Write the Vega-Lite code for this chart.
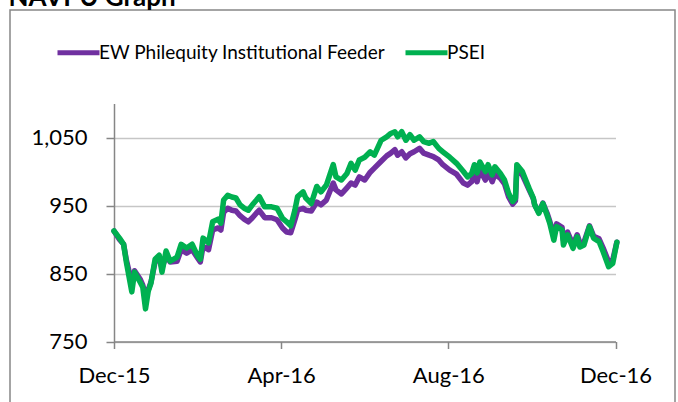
{
  "$schema": "https://vega.github.io/schema/vega-lite/v6.json",
  "autosize": {"type": "none"},
  "padding": {"left": 10, "top": 10, "right": 3, "bottom": 0},
  "width": 665,
  "height": 400,
  "background": "white",
  "config": {
    "view": {"stroke": "#868686", "strokeWidth": 1.5},
    "font": "Lato"
  },
  "data": {"values": [
    {"date": "2015-12-01", "EW Philequity Institutional Feeder": 912.5, "PSEI": 912.5},
    {"date": "2015-12-05", "EW Philequity Institutional Feeder": 900, "PSEI": 902},
    {"date": "2015-12-08", "EW Philequity Institutional Feeder": 893, "PSEI": 893},
    {"date": "2015-12-10", "EW Philequity Institutional Feeder": 870, "PSEI": 867},
    {"date": "2015-12-14", "EW Philequity Institutional Feeder": 836, "PSEI": 823},
    {"date": "2015-12-16", "EW Philequity Institutional Feeder": 854, "PSEI": 852},
    {"date": "2015-12-20", "EW Philequity Institutional Feeder": 842, "PSEI": 837.5},
    {"date": "2015-12-22", "EW Philequity Institutional Feeder": 833, "PSEI": 830},
    {"date": "2015-12-24", "EW Philequity Institutional Feeder": 817, "PSEI": 798},
    {"date": "2015-12-26", "EW Philequity Institutional Feeder": 826, "PSEI": 824},
    {"date": "2015-12-28", "EW Philequity Institutional Feeder": 837.5, "PSEI": 836},
    {"date": "2015-12-31", "EW Philequity Institutional Feeder": 867, "PSEI": 871},
    {"date": "2016-01-03", "EW Philequity Institutional Feeder": 873, "PSEI": 877},
    {"date": "2016-01-05", "EW Philequity Institutional Feeder": 858, "PSEI": 852},
    {"date": "2016-01-08", "EW Philequity Institutional Feeder": 876, "PSEI": 883},
    {"date": "2016-01-11", "EW Philequity Institutional Feeder": 867, "PSEI": 868},
    {"date": "2016-01-16", "EW Philequity Institutional Feeder": 868, "PSEI": 874},
    {"date": "2016-01-19", "EW Philequity Institutional Feeder": 885, "PSEI": 893},
    {"date": "2016-01-23", "EW Philequity Institutional Feeder": 880, "PSEI": 887.5},
    {"date": "2016-01-27", "EW Philequity Institutional Feeder": 885, "PSEI": 893},
    {"date": "2016-01-31", "EW Philequity Institutional Feeder": 873, "PSEI": 876},
    {"date": "2016-02-02", "EW Philequity Institutional Feeder": 867, "PSEI": 871},
    {"date": "2016-02-04", "EW Philequity Institutional Feeder": 890, "PSEI": 902},
    {"date": "2016-02-08", "EW Philequity Institutional Feeder": 885, "PSEI": 895},
    {"date": "2016-02-11", "EW Philequity Institutional Feeder": 914, "PSEI": 926},
    {"date": "2016-02-15", "EW Philequity Institutional Feeder": 917, "PSEI": 930},
    {"date": "2016-02-17", "EW Philequity Institutional Feeder": 914, "PSEI": 924},
    {"date": "2016-02-19", "EW Philequity Institutional Feeder": 940, "PSEI": 958},
    {"date": "2016-02-22", "EW Philequity Institutional Feeder": 946, "PSEI": 965},
    {"date": "2016-02-25", "EW Philequity Institutional Feeder": 943, "PSEI": 962.5},
    {"date": "2016-02-28", "EW Philequity Institutional Feeder": 942, "PSEI": 961},
    {"date": "2016-03-02", "EW Philequity Institutional Feeder": 935, "PSEI": 951},
    {"date": "2016-03-05", "EW Philequity Institutional Feeder": 930, "PSEI": 946},
    {"date": "2016-03-08", "EW Philequity Institutional Feeder": 926, "PSEI": 943},
    {"date": "2016-03-11", "EW Philequity Institutional Feeder": 932, "PSEI": 951},
    {"date": "2016-03-14", "EW Philequity Institutional Feeder": 939, "PSEI": 958},
    {"date": "2016-03-16", "EW Philequity Institutional Feeder": 943, "PSEI": 963},
    {"date": "2016-03-20", "EW Philequity Institutional Feeder": 932, "PSEI": 948},
    {"date": "2016-03-25", "EW Philequity Institutional Feeder": 932, "PSEI": 948},
    {"date": "2016-03-29", "EW Philequity Institutional Feeder": 929, "PSEI": 946},
    {"date": "2016-04-02", "EW Philequity Institutional Feeder": 917, "PSEI": 931},
    {"date": "2016-04-05", "EW Philequity Institutional Feeder": 911, "PSEI": 926},
    {"date": "2016-04-08", "EW Philequity Institutional Feeder": 910, "PSEI": 920},
    {"date": "2016-04-11", "EW Philequity Institutional Feeder": 929, "PSEI": 943},
    {"date": "2016-04-13", "EW Philequity Institutional Feeder": 943, "PSEI": 963},
    {"date": "2016-04-17", "EW Philequity Institutional Feeder": 946, "PSEI": 970},
    {"date": "2016-04-19", "EW Philequity Institutional Feeder": 943, "PSEI": 961},
    {"date": "2016-04-23", "EW Philequity Institutional Feeder": 942, "PSEI": 953},
    {"date": "2016-04-27", "EW Philequity Institutional Feeder": 955, "PSEI": 978},
    {"date": "2016-04-30", "EW Philequity Institutional Feeder": 951, "PSEI": 970},
    {"date": "2016-05-04", "EW Philequity Institutional Feeder": 958, "PSEI": 980},
    {"date": "2016-05-09", "EW Philequity Institutional Feeder": 983, "PSEI": 1010},
    {"date": "2016-05-11", "EW Philequity Institutional Feeder": 973, "PSEI": 992},
    {"date": "2016-05-15", "EW Philequity Institutional Feeder": 967, "PSEI": 987.5},
    {"date": "2016-05-19", "EW Philequity Institutional Feeder": 976, "PSEI": 997},
    {"date": "2016-05-22", "EW Philequity Institutional Feeder": 983, "PSEI": 1012},
    {"date": "2016-05-25", "EW Philequity Institutional Feeder": 980, "PSEI": 1002},
    {"date": "2016-05-28", "EW Philequity Institutional Feeder": 992, "PSEI": 1017},
    {"date": "2016-06-01", "EW Philequity Institutional Feeder": 987.5, "PSEI": 1021},
    {"date": "2016-06-05", "EW Philequity Institutional Feeder": 999, "PSEI": 1029},
    {"date": "2016-06-08", "EW Philequity Institutional Feeder": 1005, "PSEI": 1024},
    {"date": "2016-06-13", "EW Philequity Institutional Feeder": 1015, "PSEI": 1046},
    {"date": "2016-06-17", "EW Philequity Institutional Feeder": 1023, "PSEI": 1051},
    {"date": "2016-06-20", "EW Philequity Institutional Feeder": 1027, "PSEI": 1056},
    {"date": "2016-06-23", "EW Philequity Institutional Feeder": 1032, "PSEI": 1058.5},
    {"date": "2016-06-25", "EW Philequity Institutional Feeder": 1024, "PSEI": 1051},
    {"date": "2016-06-28", "EW Philequity Institutional Feeder": 1029, "PSEI": 1058.5},
    {"date": "2016-07-01", "EW Philequity Institutional Feeder": 1020, "PSEI": 1046},
    {"date": "2016-07-04", "EW Philequity Institutional Feeder": 1026, "PSEI": 1054},
    {"date": "2016-07-07", "EW Philequity Institutional Feeder": 1029, "PSEI": 1046},
    {"date": "2016-07-11", "EW Philequity Institutional Feeder": 1034, "PSEI": 1051},
    {"date": "2016-07-14", "EW Philequity Institutional Feeder": 1027, "PSEI": 1044},
    {"date": "2016-07-18", "EW Philequity Institutional Feeder": 1024, "PSEI": 1041.5},
    {"date": "2016-07-21", "EW Philequity Institutional Feeder": 1022, "PSEI": 1044},
    {"date": "2016-07-25", "EW Philequity Institutional Feeder": 1017, "PSEI": 1034},
    {"date": "2016-07-28", "EW Philequity Institutional Feeder": 1010, "PSEI": 1029},
    {"date": "2016-08-02", "EW Philequity Institutional Feeder": 1002, "PSEI": 1021},
    {"date": "2016-08-07", "EW Philequity Institutional Feeder": 996, "PSEI": 1012},
    {"date": "2016-08-12", "EW Philequity Institutional Feeder": 983, "PSEI": 1000},
    {"date": "2016-08-15", "EW Philequity Institutional Feeder": 980, "PSEI": 992},
    {"date": "2016-08-18", "EW Philequity Institutional Feeder": 985, "PSEI": 997},
    {"date": "2016-08-20", "EW Philequity Institutional Feeder": 996, "PSEI": 1010},
    {"date": "2016-08-22", "EW Philequity Institutional Feeder": 985, "PSEI": 998},
    {"date": "2016-08-24", "EW Philequity Institutional Feeder": 1002, "PSEI": 1014},
    {"date": "2016-08-28", "EW Philequity Institutional Feeder": 987.5, "PSEI": 1000},
    {"date": "2016-08-30", "EW Philequity Institutional Feeder": 999, "PSEI": 1010},
    {"date": "2016-09-02", "EW Philequity Institutional Feeder": 985, "PSEI": 995},
    {"date": "2016-09-04", "EW Philequity Institutional Feeder": 996, "PSEI": 1007},
    {"date": "2016-09-08", "EW Philequity Institutional Feeder": 990, "PSEI": 997},
    {"date": "2016-09-11", "EW Philequity Institutional Feeder": 982, "PSEI": 987.5},
    {"date": "2016-09-14", "EW Philequity Institutional Feeder": 962.5, "PSEI": 968},
    {"date": "2016-09-17", "EW Philequity Institutional Feeder": 952, "PSEI": 956},
    {"date": "2016-09-19", "EW Philequity Institutional Feeder": 957, "PSEI": 961},
    {"date": "2016-09-20", "EW Philequity Institutional Feeder": 1005, "PSEI": 1010},
    {"date": "2016-09-24", "EW Philequity Institutional Feeder": 995, "PSEI": 1000},
    {"date": "2016-09-27", "EW Philequity Institutional Feeder": 982, "PSEI": 985},
    {"date": "2016-09-29", "EW Philequity Institutional Feeder": 973, "PSEI": 975},
    {"date": "2016-10-02", "EW Philequity Institutional Feeder": 960, "PSEI": 961},
    {"date": "2016-10-03", "EW Philequity Institutional Feeder": 951, "PSEI": 951},
    {"date": "2016-10-06", "EW Philequity Institutional Feeder": 940, "PSEI": 938.5},
    {"date": "2016-10-09", "EW Philequity Institutional Feeder": 953.5, "PSEI": 953},
    {"date": "2016-10-12", "EW Philequity Institutional Feeder": 939, "PSEI": 936},
    {"date": "2016-10-14", "EW Philequity Institutional Feeder": 927, "PSEI": 924},
    {"date": "2016-10-17", "EW Philequity Institutional Feeder": 905, "PSEI": 899},
    {"date": "2016-10-19", "EW Philequity Institutional Feeder": 923, "PSEI": 919},
    {"date": "2016-10-23", "EW Philequity Institutional Feeder": 918, "PSEI": 914},
    {"date": "2016-10-24", "EW Philequity Institutional Feeder": 899, "PSEI": 892},
    {"date": "2016-10-27", "EW Philequity Institutional Feeder": 911, "PSEI": 907},
    {"date": "2016-10-31", "EW Philequity Institutional Feeder": 892, "PSEI": 887},
    {"date": "2016-11-03", "EW Philequity Institutional Feeder": 907, "PSEI": 904},
    {"date": "2016-11-05", "EW Philequity Institutional Feeder": 895, "PSEI": 889},
    {"date": "2016-11-08", "EW Philequity Institutional Feeder": 896, "PSEI": 892},
    {"date": "2016-11-12", "EW Philequity Institutional Feeder": 920, "PSEI": 919},
    {"date": "2016-11-15", "EW Philequity Institutional Feeder": 905, "PSEI": 902},
    {"date": "2016-11-19", "EW Philequity Institutional Feeder": 901, "PSEI": 897},
    {"date": "2016-11-22", "EW Philequity Institutional Feeder": 887.5, "PSEI": 882},
    {"date": "2016-11-26", "EW Philequity Institutional Feeder": 867, "PSEI": 860},
    {"date": "2016-11-29", "EW Philequity Institutional Feeder": 870, "PSEI": 865},
    {"date": "2016-12-02", "EW Philequity Institutional Feeder": 896, "PSEI": 896}
  ]},
  "transform": [
    {"fold": ["EW Philequity Institutional Feeder", "PSEI"], "as": ["series", "value"]}
  ],
  "mark": {"type": "line", "strokeWidth": 5.5, "strokeJoin": "round", "strokeCap": "round"},
  "encoding": {
    "x": {
      "field": "date", "type": "temporal",
      "scale": {"type": "utc", "domain": [{"year": 2015, "month": 12, "date": 1, "utc": true}, {"year": 2016, "month": 12, "date": 1, "utc": true}], "range": [104, 605.5]},
      "axis": {
        "title": null, "orient": "bottom", "offset": -68.5, "grid": false,
        "values": [{"year": 2015, "month": 12, "date": 1, "utc": true}, {"year": 2016, "month": 4, "date": 1, "utc": true}, {"year": 2016, "month": 8, "date": 1, "utc": true}, {"year": 2016, "month": 12, "date": 1, "utc": true}],
        "labelExpr": "utcFormat(datum.value, '%b-%y')",
        "domainColor": "#868686", "domainWidth": 1.5, "tickColor": "#868686", "tickWidth": 1.5, "tickSize": 7,
        "labelFont": "Lato", "labelFontSize": 22, "labelColor": "#000000", "labelPadding": 17, "labelFlush": false, "labelOverlap": false
      }
    },
    "y": {
      "field": "value", "type": "quantitative",
      "scale": {"domain": [750, 1100], "range": [331.5, 93.5], "nice": false, "zero": false},
      "axis": {
        "title": "NAVPU Graph", "titleX": -106, "titleY": -5, "titleAngle": 0, "titleAlign": "left", "titleBaseline": "alphabetic",
        "titleFont": "Lato", "titleFontSize": 26, "titleFontWeight": "bold", "titleColor": "#000000",
        "orient": "left", "offset": -104,
        "values": [750, 850, 950, 1050], "format": ",d",
        "grid": true, "gridColor": "#C6C6C6", "gridWidth": 1.5,
        "domainColor": "#868686", "domainWidth": 1.5, "tickColor": "#868686", "tickWidth": 1.5, "tickSize": 8,
        "labelFont": "Lato", "labelFontSize": 22, "labelColor": "#000000", "labelPadding": 19, "labelFlush": false, "labelOverlap": false
      }
    },
    "color": {
      "field": "series", "type": "nominal",
      "scale": {"domain": ["EW Philequity Institutional Feeder", "PSEI"], "range": ["#7030A0", "#00B050"]},
      "legend": {
        "title": null, "orient": "none", "legendX": 45, "legendY": 19, "direction": "horizontal",
        "symbolType": "stroke", "symbolSize": 1764, "symbolStrokeWidth": 5,
        "labelFont": "Lato", "labelFontSize": 19, "labelColor": "#000000", "labelOffset": -3, "columnPadding": 9, "labelLimit": 400
      }
    }
  }
}
